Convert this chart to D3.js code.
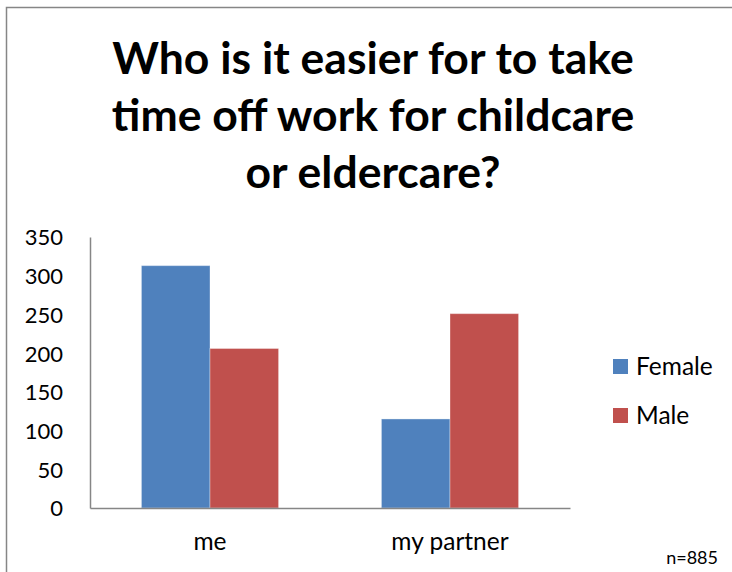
<!DOCTYPE html>
<html>
<head>
<meta charset="utf-8">
<script src="https://cdn.jsdelivr.net/npm/d3@7"></script>
<style>
  body { margin: 0; background: #fff; }
  text { font-family: Lato, "Open Sans", sans-serif; fill: #000; }
</style>
</head>
<body>
<div id="chart"></div>
<script>
// values
var categories = ["me", "my partner"];
var seriesNames = ["Female", "Male"];
var female = [313, 115];
var male = [206, 251];
var yTicks = [0, 50, 100, 150, 200, 250, 300, 350];
var titleLines = ["Who is it easier for to take", "time off work for childcare", "or eldercare?"];
var note = "n=885";

var colors = {Female: "#4F81BD", Male: "#C0504D"};

var W = 732, H = 572;
var margin = {top: 237, right: 162, bottom: 64, left: 90},
    width = W - margin.left - margin.right,
    height = H - margin.top - margin.bottom;

var svg = d3.select("#chart").append("svg")
    .attr("width", W)
    .attr("height", H);

// outer frame
svg.append("rect")
    .attr("x", 6.5).attr("y", 7.5)
    .attr("width", W + 20).attr("height", H + 20)
    .attr("fill", "none")
    .attr("stroke", "#868686")
    .attr("stroke-width", 1.5);

svg.append("text")
    .attr("x", 373)
    .attr("text-anchor", "middle")
    .style("font-weight", "bold")
    .style("font-size", "44.5px")
  .selectAll("tspan")
    .data(titleLines)
  .enter().append("tspan")
    .attr("x", 373)
    .attr("y", function(d, i) { return 74 + i * 57; })
    .text(function(d) { return d; });

var g = svg.append("g")
    .attr("transform", "translate(" + margin.left + "," + margin.top + ")");

var x0 = d3.scaleBand()
    .domain(categories)
    .range([0, width])
    .padding(0);

var x1 = d3.scaleBand()
    .domain(seriesNames)
    .range([0, x0.bandwidth()])
    .paddingInner(0)
    .paddingOuter(0.75);

var y = d3.scaleLinear()
    .domain([0, 350])
    .range([height, 0]);

var rows = categories.map(function(c, i) {
    return {cat: c, values: [{key: "Female", v: female[i]}, {key: "Male", v: male[i]}]};
});

g.selectAll("g.cat")
    .data(rows)
  .enter().append("g")
    .attr("class", "cat")
    .attr("transform", function(d) { return "translate(" + x0(d.cat) + ",0)"; })
  .selectAll("rect")
    .data(function(d) { return d.values; })
  .enter().append("rect")
    .attr("x", function(d) { return x1(d.key); })
    .attr("y", function(d) { return y(d.v); })
    .attr("width", x1.bandwidth())
    .attr("height", function(d) { return height - y(d.v); })
    .attr("fill", function(d) { return colors[d.key]; })
    .attr("stroke", "rgba(255,255,255,0.35)")
    .attr("stroke-width", 1);

var yAxis = d3.axisLeft(y).tickValues(yTicks).tickSize(0).tickPadding(27);
g.append("g")
    .attr("class", "y axis")
    .call(yAxis)
    .call(function(s) {
        s.select(".domain").attr("stroke", "#868686").attr("stroke-width", 1.5);
        s.selectAll("text").style("font-size", "22px").attr("dy", "0.36em");
    });

var xAxis = d3.axisBottom(x0).tickSize(0).tickPadding(25);
g.append("g")
    .attr("class", "x axis")
    .attr("transform", "translate(0," + height + ")")
    .call(xAxis)
    .call(function(s) {
        s.select(".domain").attr("stroke", "#868686").attr("stroke-width", 1.5);
        s.selectAll("text").style("font-size", "24.5px");
    });

// legend
var legend = svg.append("g")
    .attr("transform", "translate(613,359)");
var item = legend.selectAll("g")
    .data(seriesNames)
  .enter().append("g")
    .attr("transform", function(d, i) { return "translate(0," + i * 49 + ")"; });
item.append("rect")
    .attr("width", 15).attr("height", 15)
    .attr("fill", function(d) { return colors[d]; });
item.append("text")
    .attr("x", 23).attr("y", 7.5)
    .attr("dy", "0.36em")
    .style("font-size", "24.5px")
    .text(function(d) { return d; });

svg.append("text")
    .attr("x", 718).attr("y", 564)
    .attr("text-anchor", "end")
    .style("font-size", "18px")
    .text(note);
</script>
</body>
</html>
